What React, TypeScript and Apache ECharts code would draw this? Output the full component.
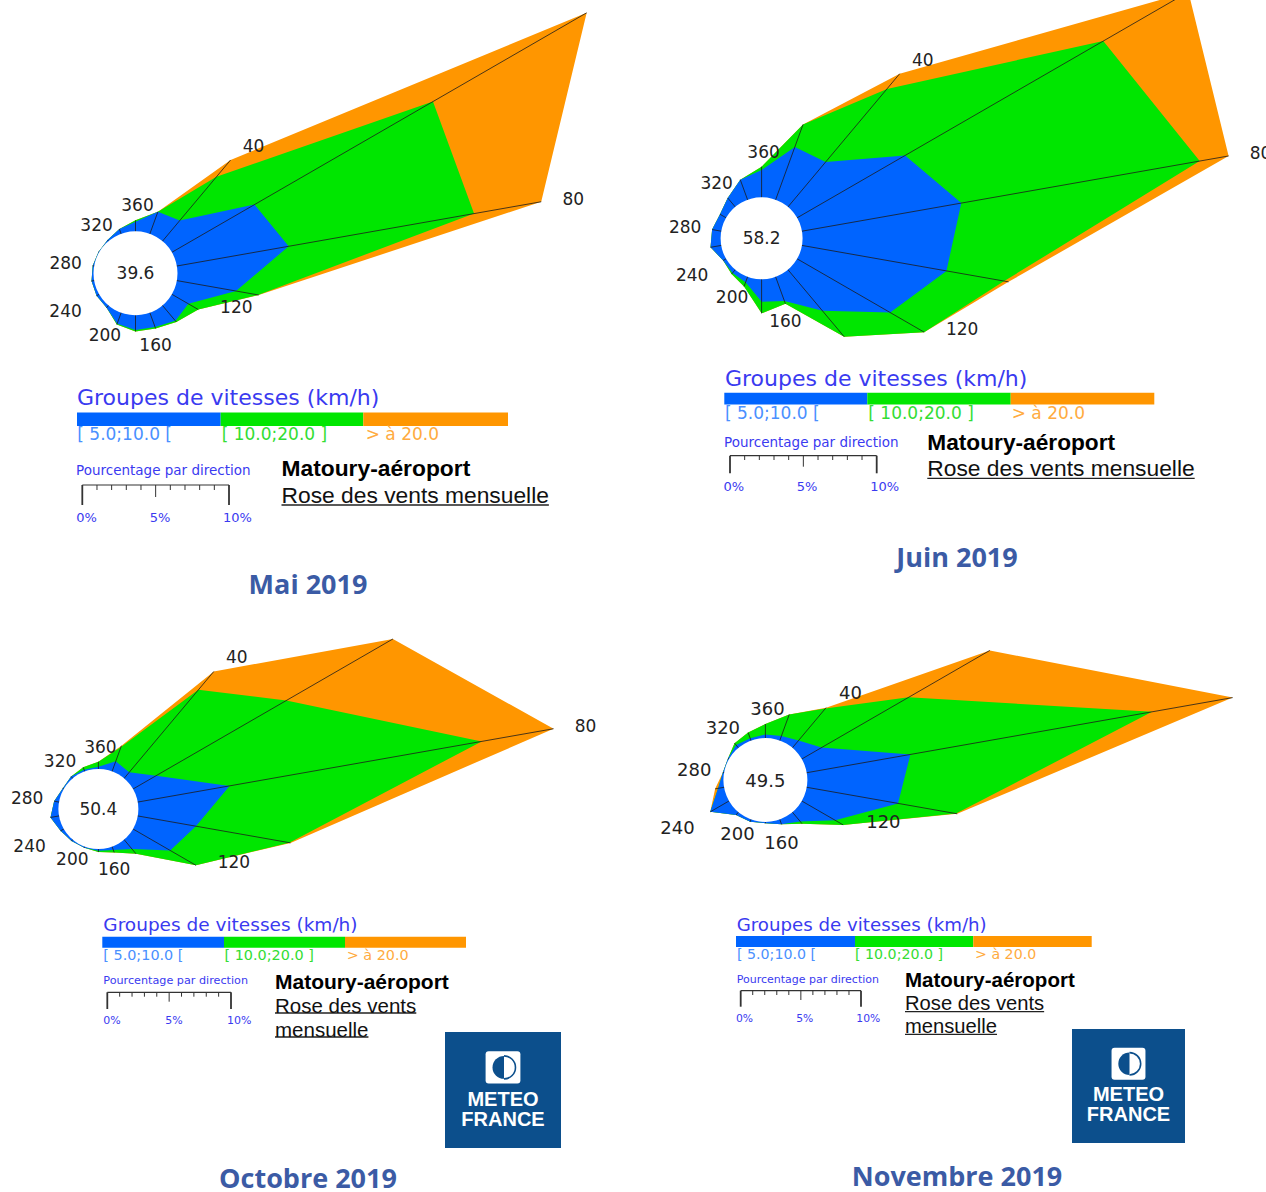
import React, { useEffect, useRef } from "react";
import * as echarts from "echarts";

// ---------------- DATA ----------------
const DIRECTIONS = [0, 20, 40, 60, 80, 100, 120, 140, 160, 180, 200, 220, 240, 260, 280, 300, 320, 340];
const LABEL_DIRECTIONS = [40, 80, 120, 160, 200, 240, 280, 320, 360];
const NOV_LABEL_DIRECTIONS = [40, 120, 160, 200, 240, 280, 320, 360];
const CALM = [39.6, 58.2, 50.4, 49.5];
const MONTHS = ["Mai 2019", "Juin 2019", "Octobre 2019", "Novembre 2019"];
const SPEED_GROUPS = ["[ 5.0;10.0 [", "[ 10.0;20.0 ]", "> à 20.0"];
const SCALE_TICK_LABELS = ["0%", "5%", "10%"];
const SCALE_TICK_VALUES = [0, 5, 10];
const STATION = "Matoury-aéroport";
const SUBTITLE = "Rose des vents mensuelle";

// % per direction, speed groups [5;10[, [10;20], >20
const MAI_5_10 = [0.65, 1.6, 1.83, 6.5, 7.74, 4.09, 1.3, 1.37, 1.04, 1.0, 0.8, 0.2, 0.2, 0.18, 0.1, 0.05, 0.1, 0.35];
const MAI_10_20 = [0.1, 0, 3.89, 14.05, 12.83, 1.53, 0.78, 0.1, 0.1, 0.1, 0.05, 0, 0, 0, 0, 0, 0, 0];
const MAI_SUP_20 = [0, 0, 1.5, 12.1, 4.65, 0.05, 0, 0, 0, 0, 0, 0, 0, 0, 0, 0, 0, 0];

const JUIN_5_10 = [1.86, 3.83, 4.0, 8.5, 11.03, 10.0, 7.33, 3.65, 1.76, 1.53, 0.4, 0.29, 0.23, 0.74, 0.63, 0.48, 0.8, 1.45];
const JUIN_10_20 = [0.23, 1.63, 6.5, 15.6, 16.5, 4.0, 2.67, 2.31, 0.2, 0.79, 0.3, 0.1, 0, 0, 0, 0, 0, 0];
const JUIN_SUP_20 = [0, 0, 1.35, 6.7, 2.0, 0.3, 0, 0, 0, 0, 0, 0, 0, 0, 0, 0, 0, 0];

const OCT_5_10 = [0.19, 0.87, 0.64, 2.16, 7.53, 4.77, 3.47, 1.0, 0.3, 0.15, 0.1, 0.15, 0.3, 0.7, 0.4, 0.1, 0.2, 0.15];
const OCT_10_20 = [0.4, 1.24, 8.7, 12.15, 20.7, 7.67, 2.4, 0.5, 0.2, 0.1, 0, 0, 0, 0, 0, 0, 0, 0.2];
const OCT_SUP_20 = [0, 0.1, 1.94, 9.95, 5.9, 0.1, 0, 0, 0, 0, 0, 0, 0, 0, 0, 0, 0, 0];

const NOV_5_10 = [0.3, 0.4, 0.8, 1.9, 8.75, 7.7, 3.2, 1.0, 0.43, 0.1, 0.2, 0.3, 1.8, 0.5, 0.1, 0.1, 0.3, 0.2];
const NOV_10_20 = [0.86, 1.9, 3.46, 8.35, 20.4, 4.9, 0.77, 0.25, 0, 0, 0, 0, 0, 0, 0, 0, 0.2, 0.5];
const NOV_SUP_20 = [0, 0, 0.1, 7.8, 6.8, 0.1, 0, 0, 0, 0, 0, 0, 0, 0.25, 0, 0, 0, 0];

// ---------------- STYLE / LAYOUT ----------------
const GROUP_COLORS = ["#0064ff", "#00e600", "#ff9600"];
const GROUP_LABEL_COLORS = ["#4a90ff", "#33dd33", "#ffab40"];
const LEGEND_BLUE = "#3a3af0";
const TITLE_BLUE = "#3b5ba5";
const ROSE_FONT = '"DejaVu Sans", Verdana, sans-serif';
const ARIAL = '"Liberation Sans", Arial, sans-serif';
const RMAX = 45;
// pixel offset of each direction label from the outer vertex (for a 17px font)
const LABEL_SHIFT: Record<number, [number, number]> = {
  40: [23, -14], 80: [32, -3], 120: [38, -3], 160: [0, 17], 200: [-12, 11],
  240: [-31, 15], 280: [-27, -3], 320: [-11, -15], 360: [2, -15],
};

const PANELS = [
  {
    groups: [MAI_5_10, MAI_10_20, MAI_SUP_20], calm: CALM[0], month: MONTHS[0], labels: LABEL_DIRECTIONS,
    center: [135.5, 273.3], ppp: 14.67, r0: 42, fs: 17, titlePos: [308, 583],
    lg: {
      gx: 77, gy: 397, gs: 22, bar: [77, 220.7, 363.3, 508], barY: 412.5, barH: 13.5,
      labY: 433.5, labS: 17, labX: [77.3, 221.7, 365.7],
      px: 76, py: 470, ps: 13.5, sx0: 82.3, sx1: 229, sTop: 485, sShort: 490, sMid: 497, sLong: 505,
      tlY: 517, tlS: 13, tlOff: -6, stX: 281.5, stY: 468, stS: 22.8,
      rose: [{ t: SUBTITLE, y: 495 }], roseS: 22.8, ulDy: 10, logo: null,
    },
  },
  {
    groups: [JUIN_5_10, JUIN_10_20, JUIN_SUP_20], calm: CALM[1], month: MONTHS[1], labels: LABEL_DIRECTIONS,
    center: [761.6, 238.3], ppp: 14.67, r0: 41, fs: 17, titlePos: [957, 556],
    lg: {
      gx: 725, gy: 378, gs: 22, bar: [724.3, 867.3, 1010.7, 1154.3], barY: 392.7, barH: 11.8,
      labY: 413, labS: 17, labX: [725, 868.3, 1011.7],
      px: 724, py: 441.7, ps: 13.5, sx0: 730, sx1: 876.7, sTop: 455.7, sShort: 460, sMid: 466.7, sLong: 473.3,
      tlY: 486.7, tlS: 13, tlOff: -6.5, stX: 927.3, stY: 441.7, stS: 22.7,
      rose: [{ t: SUBTITLE, y: 468.3 }], roseS: 22.8, ulDy: 10, logo: null,
    },
  },
  {
    groups: [OCT_5_10, OCT_10_20, OCT_SUP_20], calm: CALM[2], month: MONTHS[2], labels: LABEL_DIRECTIONS,
    center: [98.4, 809], ppp: 12.37, r0: 40, fs: 17, titlePos: [308, 1177],
    lg: {
      gx: 103.3, gy: 924, gs: 18.5, bar: [102.3, 224, 345, 466], barY: 936.7, barH: 11,
      labY: 955, labS: 14.4, labX: [103.3, 224.5, 346.7],
      px: 103.3, py: 980.7, ps: 11.2, sx0: 107.3, sx1: 231, sTop: 992.3, sShort: 996.7, sMid: 1001.7, sLong: 1009,
      tlY: 1020.7, tlS: 11, tlOff: -4, stX: 275, stY: 981.7, stS: 21,
      rose: [{ t: "Rose des vents", y: 1005 }, { t: "mensuelle", y: 1029 }], roseS: 20.5, ulDy: 8,
      logo: { x: 445, y: 1032, w: 116, h: 116 },
    },
  },
  {
    groups: [NOV_5_10, NOV_10_20, NOV_SUP_20], calm: CALM[3], month: MONTHS[3], labels: NOV_LABEL_DIRECTIONS,
    center: [765.4, 780], ppp: 12.03, r0: 42, fs: 18, titlePos: [957, 1175],
    lg: {
      gx: 736.7, gy: 924, gs: 18.2, bar: [736, 855, 973.3, 1091.7], barY: 936, barH: 11,
      labY: 954.3, labS: 14.2, labX: [737, 855, 975],
      px: 736.7, py: 979, ps: 11, sx0: 740.7, sx1: 861, sTop: 990.7, sShort: 995, sMid: 1000, sLong: 1006.7,
      tlY: 1018.3, tlS: 10.8, tlOff: -4.7, stX: 905, stY: 979, stS: 20.5,
      rose: [{ t: "Rose des vents", y: 1003.3 }, { t: "mensuelle", y: 1026 }], roseS: 20.2, ulDy: 8.3,
      logo: { x: 1072, y: 1029, w: 113, h: 114 },
    },
  },
];

function measure(text: string, font: string): number {
  const c = document.createElement("canvas").getContext("2d");
  if (!c) return text.length * 10;
  c.font = font;
  return c.measureText(text).width;
}

function txt(text: string, x: number, y: number, font: string, fill: string, align = "left", valign = "middle", z = 10) {
  return {
    type: "text",
    z,
    style: { text, x, y, font, fill, textAlign: align, textVerticalAlign: valign, align, verticalAlign: valign },
  };
}

function makeRenderItem(p: any) {
  return (_params: any, api: any) => {
    const off = p.r0 / p.ppp;
    const n = DIRECTIONS.length;
    const cum: number[][] = [];
    let acc = new Array(n).fill(0);
    p.groups.forEach((arr: number[]) => {
      acc = acc.map((a: number, i: number) => a + arr[i]);
      cum.push(acc.slice());
    });
    const center = api.coord([0, 0]);
    const children: any[] = [];
    for (let g = 2; g >= 0; g--) {
      const pts = DIRECTIONS.map((d, i) => api.coord([off + cum[g][i], d]));
      children.push({ type: "polygon", shape: { points: pts }, style: { fill: GROUP_COLORS[g] } });
    }
    DIRECTIONS.forEach((d, i) => {
      const pt = api.coord([off + cum[2][i], d]);
      children.push({
        type: "line",
        shape: { x1: center[0], y1: center[1], x2: pt[0], y2: pt[1] },
        style: { stroke: "#1c1c1c", lineWidth: 0.8 },
      });
    });
    const edge = api.coord([off, 0]);
    const r = Math.hypot(edge[0] - center[0], edge[1] - center[1]);
    children.push({ type: "circle", shape: { cx: center[0], cy: center[1], r }, style: { fill: "#ffffff" } });
    const f = `${p.fs}px ${ROSE_FONT}`;
    children.push(txt(p.calm.toFixed(1), center[0], center[1], f, "#222222", "center"));
    const k = p.fs / 17;
    p.labels.forEach((lab: number) => {
      const d = lab % 360;
      const i = DIRECTIONS.indexOf(d);
      const pt = api.coord([off + cum[2][i], d]);
      const s = LABEL_SHIFT[lab];
      children.push(txt(String(lab), pt[0] + s[0] * k, pt[1] + s[1] * k, f, "#222222", "center"));
    });
    return { type: "group", children };
  };
}

function legendElements(p: any): any[] {
  const L = p.lg;
  const els: any[] = [];
  els.push(txt("Groupes de vitesses (km/h)", L.gx, L.gy, `${L.gs}px ${ROSE_FONT}`, LEGEND_BLUE));
  for (let g = 0; g < 3; g++) {
    els.push({
      type: "rect",
      shape: { x: L.bar[g], y: L.barY, width: L.bar[g + 1] - L.bar[g], height: L.barH },
      style: { fill: GROUP_COLORS[g] },
    });
    els.push(txt(SPEED_GROUPS[g], L.labX[g], L.labY, `${L.labS}px ${ROSE_FONT}`, GROUP_LABEL_COLORS[g]));
  }
  els.push(txt("Pourcentage par direction", L.px, L.py, `${L.ps}px ${ROSE_FONT}`, LEGEND_BLUE));
  // scale bar
  const span = L.sx1 - L.sx0;
  els.push({
    type: "line",
    shape: { x1: L.sx0, y1: L.sTop, x2: L.sx1, y2: L.sTop },
    style: { stroke: "#333333", lineWidth: 1.2 },
  });
  for (let v = 0; v <= 10; v++) {
    const x = L.sx0 + (v / 10) * span;
    const end = v === 0 || v === 10;
    const y2 = end ? L.sLong : v === 5 ? L.sMid : L.sShort;
    els.push({
      type: "line",
      shape: { x1: x, y1: L.sTop, x2: x, y2 },
      style: { stroke: "#333333", lineWidth: end ? 1.8 : 1 },
    });
  }
  SCALE_TICK_VALUES.forEach((v, k) => {
    const x = L.sx0 + (v / 10) * span + L.tlOff;
    els.push(txt(SCALE_TICK_LABELS[k], x, L.tlY, `${L.tlS}px ${ROSE_FONT}`, LEGEND_BLUE));
  });
  els.push(txt(STATION, L.stX, L.stY, `bold ${L.stS}px ${ARIAL}`, "#000000"));
  L.rose.forEach((line: any) => {
    const font = `${L.roseS}px ${ARIAL}`;
    els.push(txt(line.t, L.stX, line.y, font, "#111111"));
    const w = measure(line.t, font);
    els.push({
      type: "line",
      shape: { x1: L.stX, y1: line.y + L.ulDy, x2: L.stX + w, y2: line.y + L.ulDy },
      style: { stroke: "#222222", lineWidth: 1.3 },
    });
  });
  if (L.logo) {
    const { x, y, w, h } = L.logo;
    const cx = x + w / 2;
    const iw = w * 0.3;
    const ih = h * 0.28;
    const iy = y + h * 0.165;
    els.push({ type: "rect", shape: { x, y, width: w, height: h }, style: { fill: "#0c4f8c" } });
    els.push({ type: "rect", shape: { x: cx - iw / 2, y: iy, width: iw, height: ih, r: 3 }, style: { fill: "#ffffff" } });
    const icy = iy + ih / 2;
    const ir = iw * 0.33;
    els.push({
      type: "sector",
      shape: { cx: cx + 1, cy: icy, r0: 0, r: ir, startAngle: Math.PI / 2, endAngle: (3 * Math.PI) / 2, clockwise: true },
      style: { fill: "#0c4f8c" },
    });
    els.push({
      type: "arc",
      shape: { cx: cx + 1, cy: icy, r: ir, startAngle: -Math.PI / 2, endAngle: Math.PI / 2, clockwise: true },
      style: { stroke: "#0c4f8c", lineWidth: 1.6, fill: "none" },
    });
    els.push({
      type: "text",
      z: 12,
      style: {
        text: "METEO\nFRANCE", x: cx, y: y + h * 0.66, font: `bold 20px ${ARIAL}`, lineHeight: 20,
        fill: "#ffffff", textAlign: "center", textVerticalAlign: "middle", align: "center", verticalAlign: "middle",
      },
    });
  }
  els.push(txt(p.month, p.titlePos[0], p.titlePos[1], `bold 27px "Open Sans", ${ARIAL}`, TITLE_BLUE, "center"));
  return els;
}

export default function App() {
  const ref = useRef<HTMLDivElement>(null);
  useEffect(() => {
    document.body.style.margin = "0";
    document.body.style.overflow = "hidden";
    if (!ref.current) return;
    const chart = echarts.init(ref.current, undefined, { renderer: "svg" });
    const graphics: any[] = [];
    PANELS.forEach((p) => graphics.push(...legendElements(p)));
    const option: any = {
      animation: false,
      backgroundColor: "#ffffff",
      polar: PANELS.map((p) => ({ center: p.center, radius: p.ppp * RMAX })),
      angleAxis: PANELS.map((_p, k) => ({
        polarIndex: k, type: "value", min: 0, max: 360, startAngle: 90, clockwise: true, show: false,
        axisLine: { show: false }, axisTick: { show: false }, axisLabel: { show: false }, splitLine: { show: false },
      })),
      radiusAxis: PANELS.map((_p, k) => ({
        polarIndex: k, type: "value", min: 0, max: RMAX, show: false,
        axisLine: { show: false }, axisTick: { show: false }, axisLabel: { show: false }, splitLine: { show: false },
      })),
      series: PANELS.map((p, k) => ({
        type: "custom",
        coordinateSystem: "polar",
        polarIndex: k,
        silent: true,
        data: [[0, 0]],
        renderItem: makeRenderItem(p),
      })),
      graphic: { elements: graphics },
    };
    chart.setOption(option);
    return () => chart.dispose();
  }, []);
  return (
    <div
      ref={ref}
      style={{ position: "absolute", left: 0, top: 0, width: 1266, height: 1192, background: "#fff" }}
    />
  );
}
